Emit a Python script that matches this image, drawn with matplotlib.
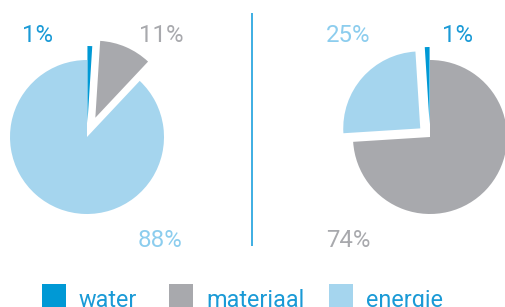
import matplotlib
matplotlib.use("Agg")
import matplotlib.pyplot as plt
from matplotlib.patches import Rectangle

# data
categories = ["water", "materiaal", "energie"]
left_values = [1, 11, 88]
right_values = [1, 74, 25]

DARK = "#0099d5"
GREY = "#a8a9ad"
LIGHT = "#a5d5ee"
colors = {"water": DARK, "materiaal": GREY, "energie": LIGHT}
text_colors = {"water": "#1a9ad6", "materiaal": "#a8a9ad", "energie": "#8ccdee"}

W, H = 505, 307
plt.rcParams["font.family"] = ["Roboto", "DejaVu Sans"]

fig = plt.figure(figsize=(W / 100, H / 100), dpi=100)
ax = fig.add_axes([0, 0, 1, 1])


def Y(y):
    # image pixel row -> axes y (y axis points up)
    return H - y


R = 77

# left pie: water, materiaal, energie clockwise from 12 o'clock
ax.pie(left_values, colors=[colors[c] for c in categories],
       explode=[14, 21, 0], startangle=90, counterclock=False,
       radius=R, center=(87, Y(137)), frame=True)

# right pie: materiaal, energie, water clockwise from 12 o'clock
order = [1, 2, 0]
ax.pie([right_values[i] for i in order],
       colors=[colors[categories[i]] for i in order],
       explode=[0, 13, 13], startangle=90, counterclock=False,
       radius=R, center=(430, Y(137)), frame=True)

fs = 17.3
# percent labels, left
ax.text(22, Y(42), f"{left_values[0]}%", color=text_colors["water"], fontsize=fs,
        ha="left", va="baseline")
ax.text(139, Y(42), f"{left_values[1]}%", color=text_colors["materiaal"], fontsize=fs,
        ha="left", va="baseline")
ax.text(138, Y(247), f"{left_values[2]}%", color=text_colors["energie"], fontsize=fs,
        ha="left", va="baseline")
# percent labels, right
ax.text(326, Y(42), f"{right_values[2]}%", color=text_colors["energie"], fontsize=fs,
        ha="left", va="baseline")
ax.text(442, Y(42), f"{right_values[0]}%", color=text_colors["water"], fontsize=fs,
        ha="left", va="baseline")
ax.text(326, Y(247), f"{right_values[1]}%", color=text_colors["materiaal"], fontsize=fs,
        ha="left", va="baseline")

# divider
ax.plot([252, 252], [Y(13), Y(246)], color="#2ea8e1", lw=1.3, solid_capstyle="butt")

# legend (cut off at the bottom edge, as in the reference)
legend_x = [42, 169, 329]
for cat, x in zip(categories, legend_x):
    ax.add_patch(Rectangle((x, Y(308)), 24, 24, facecolor=colors[cat], edgecolor="none"))
    ax.text(x + 37, Y(307), cat, color="#1a9ad6", fontsize=16.8,
            ha="left", va="baseline")

ax.set_xlim(0, W)
ax.set_ylim(0, H)
ax.set_aspect("equal")
ax.axis("off")

fig.savefig("out.png", dpi=100)
